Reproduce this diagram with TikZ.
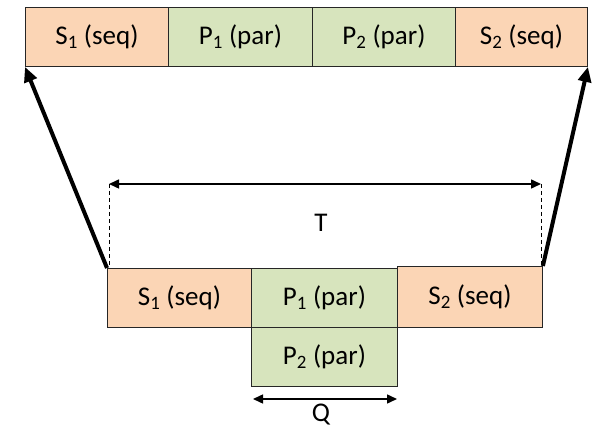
\documentclass[tikz,border=0pt]{standalone}
\usepackage{fontspec}
\setmainfont{Carlito}
\usetikzlibrary{arrows.meta}
\definecolor{seqc}{HTML}{FBD5B5}
\definecolor{parc}{HTML}{D7E4BD}
\begin{document}
\begin{tikzpicture}[x=1pt,y=-1pt,
  blk/.style={draw=black!85,line width=0.9pt,minimum height=59pt,inner sep=0pt,anchor=north west,font=\fontsize{27}{32}\selectfont},
  seqb/.style={blk,fill=seqc},
  parb/.style={blk,fill=parc},
  dim/.style={line width=1.5pt,{Triangle[length=10pt,width=9pt]}-{Triangle[length=10pt,width=9pt]}},
  big/.style={line width=4pt,-{Triangle[length=15pt,width=13pt]}},
  lbl/.style={font=\fontsize{27}{32}\selectfont}]
\useasboundingbox (0,0) rectangle (597,430);
% top row
\node[seqb,minimum width=143pt] (ts1) at (25,7) {S\textsubscript{1} (seq)};
\node[parb,minimum width=144pt] (tp1) at (168,7) {P\textsubscript{1} (par)};
\node[parb,minimum width=143pt] (tp2) at (312,7) {P\textsubscript{2} (par)};
\node[seqb,minimum width=132pt] (ts2) at (455,7) {S\textsubscript{2} (seq)};
% bottom
\node[seqb,minimum width=144pt] (bs1) at (107,268) {S\textsubscript{1} (seq)};
\node[parb,minimum width=146pt] (bp1) at (251,268) {P\textsubscript{1} (par)};
\node[seqb,minimum width=145pt,minimum height=61pt] (bs2) at (397,266) {S\textsubscript{2} (seq)};
\node[parb,minimum width=146pt] (bp2) at (251,327) {P\textsubscript{2} (par)};
% dimension T
\coordinate (tl) at (109,184);
\coordinate (tr) at (541,184);
\draw[dashed,dash pattern=on 4pt off 3pt,line width=0.7pt] (tl) -- (bs1.north west -| tl);
\draw[dashed,dash pattern=on 4pt off 3pt,line width=0.7pt] (tr) -- (bs2.north east -| tr);
\draw[dim] (tl) -- (tr);
\node[lbl] (T) at (321,223) {T};
% dimension Q
\coordinate (ql) at (253,399);
\coordinate (qr) at (397,399);
\draw[dim] (ql) -- (qr);
\node[lbl] (Q) at (321,415) {Q};
% big arrows
\draw[big] (bs1.north west) -- (ts1.south west);
\draw[big] (bs2.north east) -- (ts2.south east);
\end{tikzpicture}
\end{document}
